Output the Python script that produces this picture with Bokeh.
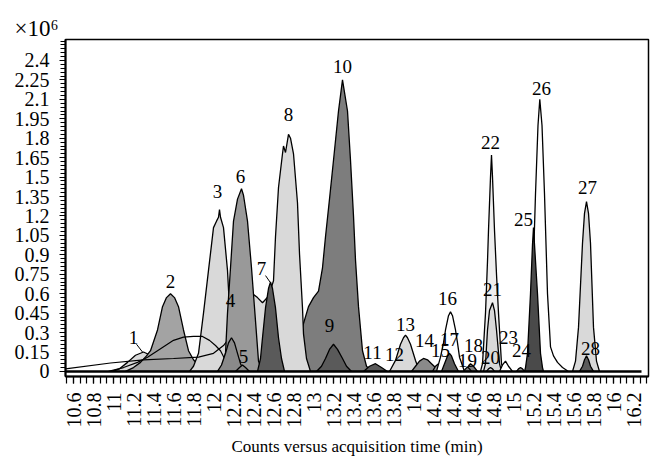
import numpy as np
from bokeh.plotting import figure
from bokeh.models import Range1d, FixedTicker, ColumnDataSource, CustomJSTickFormatter
from bokeh.embed import file_html
from bokeh.resources import INLINE
from bokeh.core.properties import value

# ---------------- axis ticks ----------------
x_ticks = [10.6, 10.8, 11.0, 11.2, 11.4, 11.6, 11.8, 12.0, 12.2, 12.4, 12.6, 12.8, 13.0,
           13.2, 13.4, 13.6, 13.8, 14.0, 14.2, 14.4, 14.6, 14.8, 15.0, 15.2, 15.4, 15.6,
           15.8, 16.0, 16.2]
x_tick_labels = ["10.6", "10.8", "11", "11.2", "11.4", "11.6", "11.8", "12", "12.2", "12.4",
                 "12.6", "12.8", "13", "13.2", "13.4", "13.6", "13.8", "14", "14.2", "14.4",
                 "14.6", "14.8", "15", "15.2", "15.4", "15.6", "15.8", "16", "16.2"]
y_ticks = [0.0, 0.15, 0.3, 0.45, 0.6, 0.75, 0.9, 1.05, 1.2, 1.35, 1.5, 1.65, 1.8, 1.95,
           2.1, 2.25, 2.4]
y_tick_labels = ["0", "0.15", "0.3", "0.45", "0.6", "0.75", "0.9", "1.05", "1.2", "1.35",
                 "1.5", "1.65", "1.8", "1.95", "2.1", "2.25", "2.4"]

# ---------------- peaks: time (min) / counts (x10^6) ----------------
pk01_x = [10.98, 11.06, 11.14, 11.22, 11.30, 11.37, 11.44, 11.51, 11.58]
pk01_y = [0.0, 0.02, 0.07, 0.125, 0.15, 0.125, 0.085, 0.04, 0.0]
pk02_x = [11.12, 11.20, 11.27, 11.33, 11.37, 11.44, 11.49, 11.53, 11.57, 11.61, 11.65,
          11.70, 11.75, 11.80, 11.86, 11.95]
pk02_y = [0.0, 0.03, 0.07, 0.12, 0.16, 0.32, 0.50, 0.57, 0.60, 0.57, 0.50, 0.32, 0.16,
          0.09, 0.04, 0.0]
pk03_x = [11.76, 11.80, 11.85, 11.90, 11.95, 12.00, 12.03, 12.05, 12.06, 12.07, 12.10,
          12.14, 12.16, 12.19, 12.22, 12.26]
pk03_y = [0.0, 0.04, 0.14, 0.45, 0.78, 1.11, 1.16, 1.19, 1.25, 1.19, 1.11, 0.78, 0.49,
          0.14, 0.04, 0.0]
hump1_x = [10.95, 11.10, 11.24, 11.34, 11.44, 11.52, 11.60, 11.70, 11.80, 11.89, 11.96,
           12.02, 12.07, 12.11, 12.15, 12.19]
hump1_y = [0.0, 0.03, 0.07, 0.11, 0.16, 0.20, 0.24, 0.265, 0.27, 0.27, 0.24, 0.20, 0.16,
           0.10, 0.05, 0.01]
hump2_x = [10.52, 10.97, 11.30, 11.60, 11.85, 12.00, 12.10, 12.16]
hump2_y = [0.02, 0.065, 0.09, 0.10, 0.11, 0.14, 0.20, 0.26]
pk10_x = [12.68, 12.76, 12.84, 12.90, 12.95, 13.00, 13.05, 13.09, 13.12, 13.16, 13.20,
          13.25, 13.29, 13.34, 13.37, 13.40, 13.42, 13.45, 13.49, 13.53, 13.58]
pk10_y = [0.0, 0.06, 0.18, 0.37, 0.50, 0.57, 0.62, 0.80, 1.04, 1.33, 1.63, 2.01, 2.25,
          2.01, 1.63, 1.20, 0.86, 0.50, 0.16, 0.04, 0.0]
pk09_x = [13.03, 13.08, 13.12, 13.16, 13.20, 13.24, 13.29, 13.33, 13.38]
pk09_y = [0.0, 0.04, 0.10, 0.17, 0.21, 0.17, 0.10, 0.04, 0.0]
pk08_x = [12.30, 12.36, 12.39, 12.44, 12.49, 12.55, 12.60, 12.62, 12.65, 12.69, 12.70,
          12.72, 12.75, 12.77, 12.80, 12.84, 12.86, 12.89, 12.90, 12.93, 12.97]
pk08_y = [0.0, 0.50, 0.60, 0.57, 0.53, 0.58, 0.70, 1.04, 1.42, 1.68, 1.74, 1.69, 1.83,
          1.80, 1.68, 1.30, 0.91, 0.49, 0.29, 0.10, 0.0]
pk06_x = [12.06, 12.10, 12.12, 12.14, 12.17, 12.20, 12.24, 12.28, 12.30, 12.34, 12.38,
          12.42, 12.45, 12.49]
pk06_y = [0.0, 0.08, 0.14, 0.45, 0.80, 1.16, 1.33, 1.41, 1.36, 1.16, 0.80, 0.39, 0.08, 0.0]
pk04_x = [12.04, 12.08, 12.12, 12.15, 12.18, 12.21, 12.24, 12.27, 12.31]
pk04_y = [0.0, 0.05, 0.14, 0.22, 0.26, 0.22, 0.14, 0.06, 0.0]
pk05_x = [12.22, 12.26, 12.29, 12.32, 12.36]
pk05_y = [0.0, 0.03, 0.05, 0.03, 0.0]
pk07_x = [12.44, 12.47, 12.49, 12.52, 12.55, 12.57, 12.59, 12.62, 12.65, 12.68, 12.71]
pk07_y = [0.0, 0.10, 0.26, 0.49, 0.64, 0.69, 0.64, 0.49, 0.26, 0.10, 0.0]
pk11_x = [13.50, 13.56, 13.62, 13.68, 13.74]
pk11_y = [0.0, 0.04, 0.06, 0.03, 0.0]
pk12_x = [13.76, 13.80, 13.84, 13.88, 13.92]
pk12_y = [0.0, 0.03, 0.05, 0.03, 0.0]
pk13_x = [13.76, 13.82, 13.87, 13.90, 13.92, 13.94, 13.97, 14.02, 14.06]
pk13_y = [0.0, 0.085, 0.21, 0.26, 0.28, 0.26, 0.21, 0.085, 0.0]
pk14_x = [13.98, 14.02, 14.06, 14.10, 14.14, 14.18, 14.22, 14.25]
pk14_y = [0.0, 0.04, 0.08, 0.10, 0.09, 0.06, 0.03, 0.0]
pk15_x = [14.19, 14.22, 14.25, 14.28, 14.31]
pk15_y = [0.0, 0.04, 0.06, 0.04, 0.0]
pk16_x = [14.23, 14.27, 14.30, 14.32, 14.35, 14.37, 14.39, 14.42, 14.44, 14.46, 14.51]
pk16_y = [0.0, 0.11, 0.22, 0.32, 0.43, 0.46, 0.43, 0.32, 0.22, 0.11, 0.0]
pk17_x = [14.28, 14.31, 14.34, 14.36, 14.38, 14.41, 14.45]
pk17_y = [0.0, 0.06, 0.12, 0.14, 0.12, 0.06, 0.0]
pk18_x = [14.52, 14.55, 14.57, 14.60, 14.64]
pk18_y = [0.0, 0.04, 0.06, 0.04, 0.0]
pk19_x = [14.50, 14.52, 14.54, 14.56, 14.58]
pk19_y = [0.0, 0.02, 0.035, 0.02, 0.0]
pk22_x = [14.67, 14.69, 14.72, 14.74, 14.75, 14.77, 14.78, 14.79, 14.81, 14.83, 14.85,
          14.88, 14.91]
pk22_y = [0.0, 0.06, 0.45, 0.85, 1.09, 1.50, 1.67, 1.50, 1.09, 0.75, 0.45, 0.06, 0.0]
pk21_x = [14.70, 14.72, 14.74, 14.76, 14.79, 14.81, 14.83, 14.86, 14.88]
pk21_y = [0.0, 0.06, 0.32, 0.47, 0.53, 0.47, 0.32, 0.06, 0.0]
pk20_x = [14.73, 14.75, 14.77, 14.79, 14.81]
pk20_y = [0.0, 0.02, 0.03, 0.02, 0.0]
pk23_x = [14.86, 14.89, 14.92, 14.95, 14.99]
pk23_y = [0.0, 0.05, 0.08, 0.04, 0.0]
pk24_x = [15.03, 15.05, 15.07, 15.09, 15.11]
pk24_y = [0.0, 0.02, 0.03, 0.02, 0.0]
pk26_x = [15.14, 15.15, 15.17, 15.19, 15.22, 15.245, 15.263, 15.285, 15.31, 15.34, 15.37,
          15.40, 15.44, 15.49, 15.55]
pk26_y = [0.0, 0.085, 0.30, 0.60, 1.37, 1.90, 2.10, 1.90, 1.37, 0.60, 0.19, 0.12, 0.07,
          0.03, 0.0]
pk25_x = [15.11, 15.12, 15.14, 15.17, 15.19, 15.20, 15.21, 15.24, 15.27, 15.29, 15.30]
pk25_y = [0.0, 0.03, 0.14, 0.60, 0.98, 1.11, 0.98, 0.60, 0.14, 0.03, 0.0]
pk27_x = [15.59, 15.62, 15.65, 15.69, 15.71, 15.73, 15.75, 15.77, 15.80, 15.83, 15.86]
pk27_y = [0.0, 0.08, 0.34, 0.99, 1.22, 1.31, 1.22, 0.99, 0.34, 0.08, 0.0]
pk28_x = [15.66, 15.69, 15.71, 15.73, 15.75, 15.77, 15.80]
pk28_y = [0.0, 0.04, 0.09, 0.12, 0.09, 0.04, 0.0]
baseline_x = [10.52, 16.28]
baseline_y = [0.0, 0.0]

# ---------------- peak labels ----------------
label_text = ["1", "2", "3", "4", "5", "6", "7", "8", "9", "10", "11", "12", "13", "14",
              "15", "16", "17", "18", "19", "20", "21", "22", "23", "24", "25", "26", "27", "28"]
label_x = [11.20, 11.57, 12.04, 12.17, 12.30, 12.27, 12.48, 12.75, 13.16, 13.29, 13.59,
           13.81, 13.92, 14.11, 14.27, 14.34, 14.36, 14.60, 14.54, 14.77, 14.79, 14.77,
           14.95, 15.08, 15.10, 15.28, 15.74, 15.77]
label_y = [0.265, 0.695, 1.39, 0.55, 0.115, 1.505, 0.795, 1.985, 0.355, 2.355, 0.145,
           0.13, 0.36, 0.235, 0.16, 0.56, 0.25, 0.20, 0.085, 0.11, 0.635, 1.765, 0.26,
           0.16, 1.17, 2.185, 1.42, 0.18]
leader_x0 = [11.23, 12.52]
leader_y0 = [0.21, 0.74]
leader_x1 = [11.29, 12.565]
leader_y1 = [0.15, 0.69]

# ---------------- styling ----------------
LIGHT = "#d9d9d9"
VLIGHT = "#eeeeee"
MED = "#a3a3a3"
MED2 = "#999999"
MID = "#8a8a8a"
GREY10 = "#7d7d7d"
DARK = "#5a5a5a"
DARKER = "#4a4a4a"
WHITE = "#ffffff"
FONT = "Liberation Serif"

p = figure(width=655, height=467, output_backend="svg", toolbar_location=None,
           x_range=Range1d(10.52, 16.35), y_range=Range1d(-0.039, 2.562),
           min_border_left=65, min_border_right=7, min_border_top=39, min_border_bottom=91)
p.xgrid.visible = False
p.ygrid.visible = False
p.outline_line_color = "black"
p.outline_line_width = 1.5
p.background_fill_color = "white"

p.title.text = "×10⁶"
p.title.align = "left"
p.title.offset = -51
p.title.standoff = -2
p.title.text_font = FONT
p.title.text_font_size = "23px"
p.title.text_font_style = "normal"
p.title.text_color = "black"

def peak(xs, ys, color):
    p.patch(xs, ys, fill_color=color, line_color="black", line_width=1.3)

def trace(xs, ys):
    p.line(xs, ys, line_color="black", line_width=1.2)

peak(pk01_x, pk01_y, LIGHT)
peak(pk02_x, pk02_y, MED)
peak(pk03_x, pk03_y, LIGHT)
trace(hump1_x, hump1_y)
trace(hump2_x, hump2_y)
peak(pk10_x, pk10_y, GREY10)
peak(pk09_x, pk09_y, DARK)
peak(pk08_x, pk08_y, LIGHT)
peak(pk06_x, pk06_y, MED2)
peak(pk04_x, pk04_y, MID)
peak(pk05_x, pk05_y, MID)
peak(pk07_x, pk07_y, DARK)
peak(pk11_x, pk11_y, DARK)
peak(pk12_x, pk12_y, LIGHT)
peak(pk13_x, pk13_y, LIGHT)
peak(pk14_x, pk14_y, MID)
peak(pk15_x, pk15_y, MED2)
peak(pk16_x, pk16_y, WHITE)
peak(pk17_x, pk17_y, DARK)
peak(pk18_x, pk18_y, GREY10)
peak(pk19_x, pk19_y, GREY10)
peak(pk22_x, pk22_y, VLIGHT)
peak(pk21_x, pk21_y, LIGHT)
peak(pk20_x, pk20_y, LIGHT)
peak(pk23_x, pk23_y, WHITE)
peak(pk24_x, pk24_y, MED2)
peak(pk26_x, pk26_y, WHITE)
peak(pk25_x, pk25_y, DARKER)
peak(pk27_x, pk27_y, LIGHT)
peak(pk28_x, pk28_y, DARK)
p.line(baseline_x, baseline_y, line_color="black", line_width=2.5)

p.segment(x0=leader_x0, y0=leader_y0, x1=leader_x1, y1=leader_y1,
          line_color="black", line_width=1)

src = ColumnDataSource(dict(x=label_x, y=label_y, t=label_text))
p.text(x="x", y="y", text="t", source=src, text_font=value(FONT),
       text_font_size="19px", text_align="center", text_baseline="middle",
       text_color="black")

# ---------------- axes ----------------
fmt_code = """
let best = 0;
for (let i = 0; i < ticks_v.length; i++) {
  if (Math.abs(ticks_v[i] - tick) < Math.abs(ticks_v[best] - tick)) { best = i; }
}
return labels[best];
"""
p.xaxis.ticker = FixedTicker(ticks=x_ticks,
                             minor_ticks=list(np.round(np.arange(10.5333, 16.36, 0.2 / 3), 4)))
p.xaxis.formatter = CustomJSTickFormatter(args=dict(ticks_v=x_ticks, labels=x_tick_labels),
                                          code=fmt_code)
p.xaxis.major_label_orientation = np.pi / 2
p.yaxis.ticker = FixedTicker(ticks=y_ticks,
                             minor_ticks=list(np.round(np.arange(0, 2.56, 0.03), 4)))
p.yaxis.formatter = CustomJSTickFormatter(args=dict(ticks_v=y_ticks, labels=y_tick_labels),
                                          code=fmt_code)

for ax in (p.xaxis[0], p.yaxis[0]):
    ax.axis_line_color = "black"
    ax.axis_line_width = 2
    ax.major_tick_line_color = "black"
    ax.minor_tick_line_color = "black"
    ax.major_tick_line_width = 1.2
    ax.minor_tick_line_width = 1.2
    ax.major_tick_in = 0
    ax.minor_tick_in = 0
    ax.major_label_text_font = FONT
    ax.major_label_text_font_size = "20px"
    ax.major_label_text_color = "black"
    ax.axis_label_text_font = FONT
    ax.axis_label_text_font_style = "normal"
    ax.axis_label_text_color = "black"

p.xaxis.major_tick_out = 7
p.xaxis.minor_tick_out = 7
p.xaxis.major_label_standoff = 9
p.yaxis.major_tick_out = 6
p.yaxis.minor_tick_out = 5
p.yaxis.major_label_standoff = 10
p.xaxis.axis_label = "Counts versus acquisition time (min)"
p.xaxis.axis_label_text_font_size = "17px"
p.xaxis.axis_label_standoff = 6

open("out.html", "w").write(file_html(p, INLINE))
